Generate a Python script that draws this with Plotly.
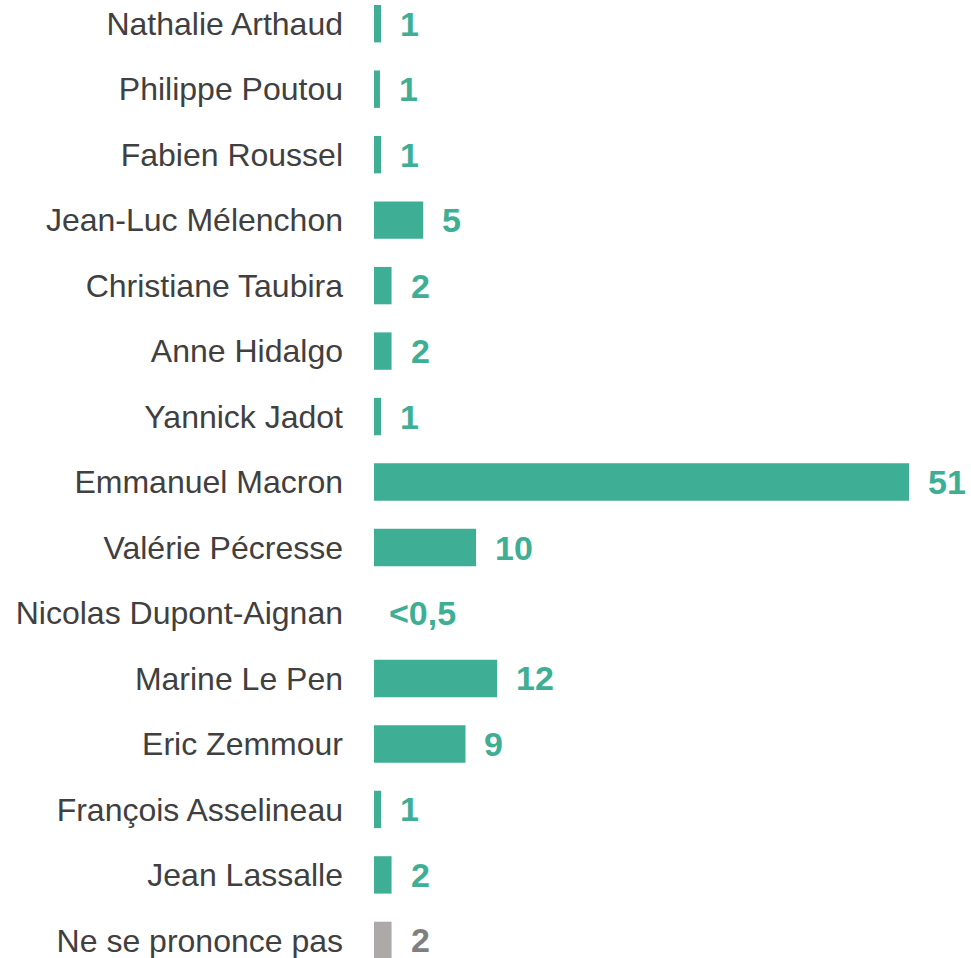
import plotly.graph_objects as go

candidates = [
    "Nathalie Arthaud", "Philippe Poutou", "Fabien Roussel", "Jean-Luc Mélenchon",
    "Christiane Taubira", "Anne Hidalgo", "Yannick Jadot", "Emmanuel Macron",
    "Valérie Pécresse", "Nicolas Dupont-Aignan", "Marine Le Pen", "Eric Zemmour",
    "François Asselineau", "Jean Lassalle", "Ne se prononce pas",
]
values = [1, 0.9, 1, 5, 2, 2, 1, 51, 10, 0.3, 12, 9, 1, 2, 2]
value_labels = ["1", "1", "1", "5", "2", "2", "1", "51", "10", "<0,5", "12", "9", "1", "2", "2"]

GREEN = "#3EAE94"
GRAY_BAR = "#ADA9A9"
GRAY_TXT = "#7F7F7F"
FONT = "Liberation Sans, Arial, sans-serif"

bar_colors = [GRAY_BAR if c == "Ne se prononce pas" else GREEN for c in candidates]
txt_colors = [GRAY_TXT if c == "Ne se prononce pas" else GREEN for c in candidates]

XMIN = 0.337
XMAX = 56.87

fig = go.Figure(go.Bar(
    x=values, y=candidates, orientation="h",
    marker=dict(color=bar_colors, line=dict(width=0)),
    hoverinfo="skip",
))

for c, v, lab, col in zip(candidates, values, value_labels, txt_colors):
    fig.add_annotation(
        x=max(v, XMIN), y=c, text=f"<b>{lab}</b>", showarrow=False,
        xanchor="left", yanchor="middle", xshift=17 if v >= XMIN else 13,
        font=dict(family=FONT, size=34, color=col),
    )

fig.update_layout(
    width=971, height=958,
    margin=dict(l=374, r=0, t=0, b=0),
    paper_bgcolor="white", plot_bgcolor="white",
    bargap=0.429,
    showlegend=False,
    font=dict(family=FONT),
)
fig.update_xaxes(range=[XMIN, XMAX], visible=False, showgrid=False, zeroline=False)
fig.update_yaxes(
    type="category", categoryorder="array", categoryarray=candidates,
    range=[14.269, -0.362], showgrid=False, zeroline=False, showline=False,
    ticks="", ticklabelstandoff=30,
    tickfont=dict(family=FONT, size=32, color="#404040"),
)

fig.write_html("out.html", config={"displayModeBar": False},
               post_script="document.body.style.margin='0';")
